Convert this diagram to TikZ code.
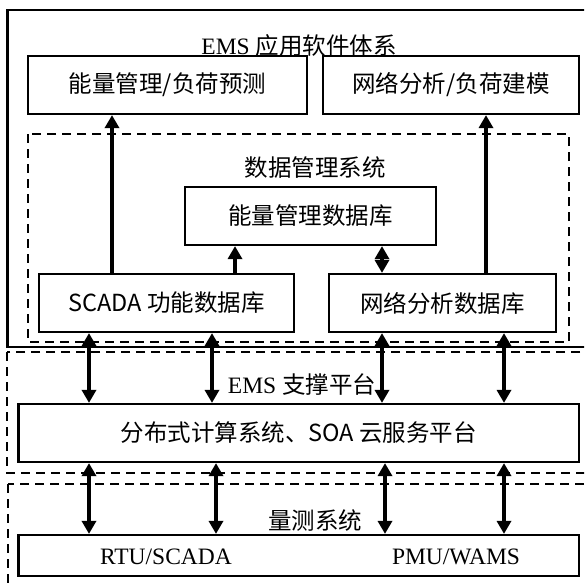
\documentclass[tikz,border=0pt]{standalone}
\usepackage{fontspec}
\setmainfont{Liberation Serif}
\newfontfamily\cjk{Noto Sans CJK SC}
\usetikzlibrary{arrows.meta}
\tikzset{
  box/.style={draw, line width=2.2pt, rectangle, inner sep=0pt, font=\cjk\fontsize{23.5}{25}\selectfont},
  dbox/.style={draw, line width=2pt, dash pattern=on 9pt off 6pt},
  lbl/.style={inner sep=0pt, font=\fontsize{23.5}{25}\selectfont},
  tip/.tip={Triangle[width=14pt,length=13pt]},
  arr/.style={line width=3.5pt, -tip},
  darr/.style={line width=3.5pt, tip-tip},
}
\begin{document}
\begin{tikzpicture}[x=1pt,y=-1pt]
\useasboundingbox (0,0) rectangle (584,586);
\clip (0,0) rectangle (584,586);
% frames
\draw[line width=2.2pt] (7.5,10) rectangle (600,347);
\draw[dbox] (28,134) rectangle (569,342);
\draw[dbox] (7,352) rectangle (600,473);
\draw[dbox] (8,484) rectangle (600,600);
% titles
\node[lbl] (t1) at (299,46) {EMS {\cjk 应用软件体系}};
\node[lbl,font=\cjk\fontsize{23.5}{25}\selectfont] (t2) at (315,168) {数据管理系统};
\node[lbl] (t3) at (302,385) {EMS {\cjk 支撑平台}};
\node[lbl,font=\cjk\fontsize{23.5}{25}\selectfont] (t4) at (315,520) {量测系统};
% boxes
\node[box, minimum width=279pt, minimum height=58pt] (b1) at (167.5,85) {能量管理/负荷预测};
\node[box, minimum width=256pt, minimum height=58pt] (b2) at (451,85) {网络分析/负荷建模};
\node[box, minimum width=251pt, minimum height=58pt] (edb) at (310.5,216) {能量管理数据库};
\node[box, minimum width=255pt, minimum height=58pt] (sdb) at (166.5,303) {SCADA 功能数据库};
\node[box, minimum width=227pt, minimum height=58pt] (ndb) at (442.5,303) {网络分析数据库};
\node[box, minimum width=560.5pt, minimum height=58pt] (plat) at (298.75,433) {分布式计算系统、SOA 云服务平台};
\node[box, minimum width=560.5pt, minimum height=41pt] (meas) at (298.75,555.5) {};
\node[lbl] (rtu) at (166,557) {RTU/SCADA};
\node[lbl] (pmu) at (456,557) {PMU/WAMS};
% x positions
\coordinate (xa) at (112,0);
\coordinate (xb) at (486,0);
\coordinate (xc) at (235,0);
\coordinate (xd) at (382,0);
\coordinate (x1) at (89,0);
\coordinate (x2) at (212,0);
\coordinate (x3) at (382,0);
\coordinate (x4) at (504,0);
\coordinate (y2) at (216,0);
\coordinate (y3) at (385,0);
% connectors
\draw[arr] (sdb.north -| xa) -- (b1.south -| xa);
\draw[arr] (ndb.north -| xb) -- (b2.south -| xb);
\draw[arr] (sdb.north -| xc) -- (edb.south -| xc);
\draw[darr] (edb.south -| xd) -- (ndb.north -| xd);
\draw[darr] (sdb.south -| x1) -- (plat.north -| x1);
\draw[darr] (sdb.south -| x2) -- (plat.north -| x2);
\draw[darr] (ndb.south -| x3) -- (plat.north -| x3);
\draw[darr] (ndb.south -| x4) -- (plat.north -| x4);
\draw[darr] (plat.south -| x1) -- (meas.north -| x1);
\draw[darr] (plat.south -| y2) -- (meas.north -| y2);
\draw[darr] (plat.south -| y3) -- (meas.north -| y3);
\draw[darr] (plat.south -| x4) -- (meas.north -| x4);
\end{tikzpicture}
\end{document}
